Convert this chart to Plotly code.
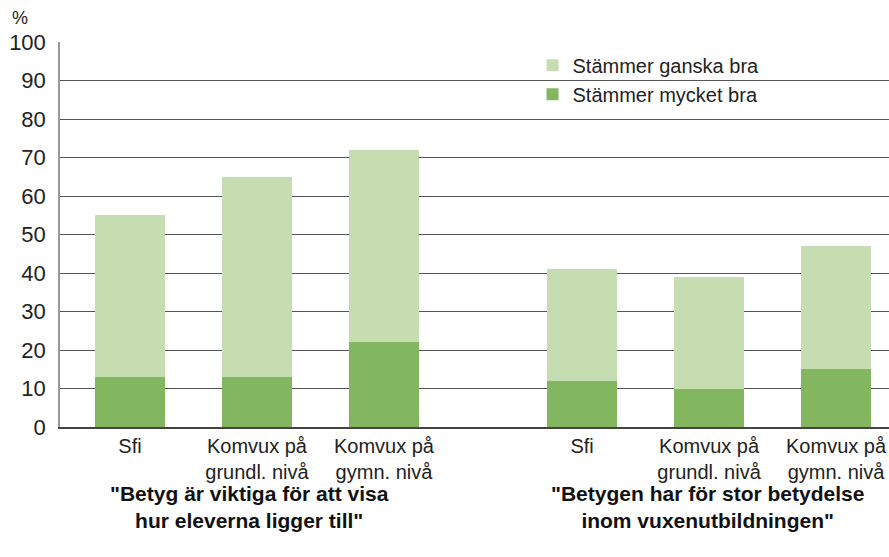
import plotly.graph_objects as go

categories = ["Sfi", "Komvux på<br>grundl. nivå", "Komvux på<br>gymn. nivå"]
group_titles = ['"Betyg är viktiga för att visa<br>hur eleverna ligger till"',
                '"Betygen har för stor betydelse<br>inom vuxenutbildningen"']
series_names = ["Stämmer mycket bra", "Stämmer ganska bra"]
mycket_g1 = [13, 13, 22]
ganska_g1 = [42, 52, 50]
mycket_g2 = [12, 10, 15]
ganska_g2 = [29, 29, 32]
y_ticks = list(range(0, 101, 10))

DARK = "#82b760"
LIGHT = "#c6ddb1"
FONT = "Liberation Sans"
TXT = "#222222"

fig = go.Figure()
for vals, name, color in [(mycket_g1, series_names[0], DARK), (ganska_g1, series_names[1], LIGHT)]:
    fig.add_trace(go.Bar(x=categories, y=vals, name=name, marker=dict(color=color, line_width=0),
                         xaxis="x", yaxis="y", legendgroup=name))
for vals, name, color in [(mycket_g2, series_names[0], DARK), (ganska_g2, series_names[1], LIGHT)]:
    fig.add_trace(go.Bar(x=categories, y=vals, name=name, marker=dict(color=color, line_width=0),
                         xaxis="x2", yaxis="y2", legendgroup=name, showlegend=False))

split = 0.5103
axis_common = dict(type="category", showgrid=False, showline=True, linecolor="#444444", linewidth=1.5,
                   ticks="", tickfont=dict(family=FONT, size=20, color=TXT), ticklabelstandoff=0,
                   automargin=False)
fig.update_layout(
    width=889, height=557,
    margin=dict(l=60, r=0, t=42, b=130),
    paper_bgcolor="white", plot_bgcolor="white",
    barmode="stack", bargap=0.449,
    font=dict(family=FONT, size=20, color=TXT),
    xaxis=dict(domain=[0, split], range=[-0.551, 2.780], **axis_common),
    xaxis2=dict(domain=[split, 1], range=[-0.780, 2.417], **axis_common),
    yaxis=dict(range=[0, 100], tickvals=y_ticks, showgrid=True, gridcolor="#555555", gridwidth=1,
               showline=True, linecolor="#999999", linewidth=1.5, ticks="", zeroline=False,
               tickfont=dict(family=FONT, size=22, color=TXT), ticklabelstandoff=8, automargin=False),
    yaxis2=dict(range=[0, 100], tickvals=y_ticks, anchor="x2", matches="y", showgrid=True,
                gridcolor="#555555", gridwidth=1, showline=False, showticklabels=False, zeroline=False,
                automargin=False),
    legend=dict(x=0.57, y=0.99, xanchor="left", yanchor="top", traceorder="reversed",
                bgcolor="rgba(0,0,0,0)", font=dict(family=FONT, size=20, color=TXT)),
    showlegend=True,
)
fig.add_annotation(text="%", xref="paper", yref="paper", x=-0.048, y=1.063, showarrow=False,
                   font=dict(family=FONT, size=18, color=TXT), xanchor="center", yanchor="middle")
for ax, title, xs in zip(["x", "x2"], group_titles, [-7, -2]):
    fig.add_annotation(text="<b>" + title + "</b>", xref=ax, yref="paper", x=categories[1], y=-0.2065,
                       xshift=xs, showarrow=False, xanchor="center", yanchor="middle",
                       font=dict(family=FONT, size=21, color="#111111"))

fig.write_html("out.html", config={"displayModeBar": False},
               post_script="document.body.style.margin='0';document.body.style.overflow='hidden';")
